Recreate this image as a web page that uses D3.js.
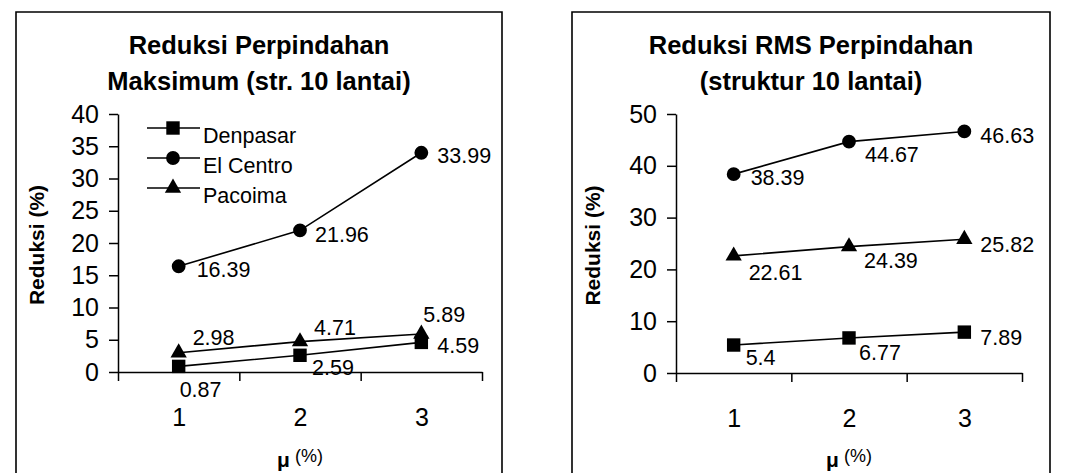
<!DOCTYPE html>
<html>
<head>
<meta charset="utf-8">
<script src="https://cdn.jsdelivr.net/npm/d3@7"></script>
<style>
  html, body { margin: 0; padding: 0; background: #fff; }
  svg { display: block; font-family: Arial, "Liberation Sans", sans-serif; }
</style>
</head>
<body>
<svg id="chart" width="1071" height="473"></svg>
<script>
// μ values (%) on the horizontal axis
const mu = [1, 2, 3];

// Maximum displacement reduction (%), 10-storey structure
const maxDenpasar = [0.87, 2.59, 4.59];
const maxElCentro = [16.39, 21.96, 33.99];
const maxPacoima  = [2.98, 4.71, 5.89];

// RMS displacement reduction (%), 10-storey structure
const rmsDenpasar = [5.4, 6.77, 7.89];
const rmsElCentro = [38.39, 44.67, 46.63];
const rmsPacoima  = [22.61, 24.39, 25.82];

const seriesNames = ["Denpasar", "El Centro", "Pacoima"];
const maxTicks = [0, 5, 10, 15, 20, 25, 30, 35, 40];
const rmsTicks = [0, 10, 20, 30, 40, 50];

const svg = d3.select("#chart");

const symbolFor = {
  "Denpasar": d3.symbol().type(d3.symbolSquare).size(180),
  "El Centro": d3.symbol().type(d3.symbolCircle).size(150),
  "Pacoima": d3.symbol().type(d3.symbolTriangle).size(115)
};

function drawPanel(p) {
  const g = svg.append("g");

  // frame (open at the bottom edge of the page)
  g.append("path")
    .attr("d", `M${p.frame[0]},480 V${p.frame[1]} H${p.frame[2]} V480`)
    .attr("fill", "none").attr("stroke", "#000").attr("stroke-width", 1.6);

  // title
  const cx = (p.frame[0] + p.frame[2]) / 2;
  const title = g.append("text")
    .attr("text-anchor", "middle")
    .attr("font-weight", "bold").attr("font-size", 25.5);
  p.title.forEach((t, i) => {
    title.append("tspan").attr("x", cx).attr("y", 54 + i * 36).text(t);
  });

  const x = d3.scaleLinear().domain([0.5, 3.5]).range([p.left, p.right]);
  const y = d3.scaleLinear().domain([0, p.yMax]).range([p.bottom, p.top]);

  // y axis
  const ya = g.append("g").attr("transform", `translate(${p.left},0)`)
    .call(d3.axisLeft(y).tickValues(p.ticks).tickSizeInner(9).tickSizeOuter(0).tickPadding(10));
  ya.selectAll("text").attr("font-size", 25).attr("fill", "#000")
    .attr("font-family", "Arial, 'Liberation Sans', sans-serif");
  ya.selectAll("line,path").attr("stroke", "#000").attr("stroke-width", 1.5);

  // x axis: tick marks on category boundaries
  const xa = g.append("g").attr("transform", `translate(0,${p.bottom})`)
    .call(d3.axisBottom(x).tickValues([0.5, 1.5, 2.5, 3.5]).tickFormat("")
      .tickSizeInner(9).tickSizeOuter(0));
  xa.selectAll("line,path").attr("stroke", "#000").attr("stroke-width", 1.5);

  // x category labels
  const xl = g.append("g").attr("transform", `translate(0,${p.bottom})`)
    .call(d3.axisBottom(x).tickValues(mu).tickFormat(d3.format("d")).tickSize(0).tickPadding(36));
  xl.select(".domain").remove();
  xl.selectAll("text").attr("font-size", 25).attr("fill", "#000")
    .attr("font-family", "Arial, 'Liberation Sans', sans-serif");

  // axis titles
  g.append("text")
    .attr("transform", `translate(${p.frame[0] + 28},${(p.top + p.bottom) / 2 + 2}) rotate(-90)`)
    .attr("text-anchor", "middle").attr("font-weight", "bold").attr("font-size", 21)
    .text("Reduksi (%)");
  const xt = g.append("text")
    .attr("x", (p.left + p.right) / 2).attr("y", 467)
    .attr("text-anchor", "middle");
  xt.append("tspan").attr("font-weight", "bold").attr("font-size", 21).text("μ");
  xt.append("tspan").attr("font-size", 18).attr("dy", -5).text(" (%)");

  // series
  const line = d3.line().x((d, i) => x(mu[i])).y(d => y(d));
  p.series.forEach(s => {
    g.append("path").datum(s.values)
      .attr("d", line).attr("fill", "none")
      .attr("stroke", "#000").attr("stroke-width", 1.6);
    g.selectAll(null).data(s.values).enter().append("path")
      .attr("d", symbolFor[s.name]())
      .attr("transform", (d, i) => `translate(${x(mu[i])},${y(d)})`)
      .attr("fill", "#000");
    g.selectAll(null).data(s.values).enter().append("text")
      .attr("x", (d, i) => x(mu[i]) + s.offsets[i][0])
      .attr("y", (d, i) => y(d) + s.offsets[i][1])
      .attr("font-size", 21.5).attr("fill", "#000")
      .text(d => d);
  });

  // legend
  if (p.legend) {
    p.series.forEach((s, i) => {
      const ly = p.legend[1] + i * 30;
      g.append("line")
        .attr("x1", p.legend[0]).attr("x2", p.legend[0] + 53)
        .attr("y1", ly).attr("y2", ly)
        .attr("stroke", "#000").attr("stroke-width", 1.6);
      g.append("path").attr("d", symbolFor[s.name]())
        .attr("transform", `translate(${p.legend[0] + 26},${ly})`).attr("fill", "#000");
      g.append("text").attr("x", p.legend[0] + 56).attr("y", ly + 15)
        .attr("font-size", 21.5).text(s.name);
    });
  }
}

drawPanel({
  frame: [16, 12, 502],
  title: ["Reduksi Perpindahan", "Maksimum (str. 10 lantai)"],
  left: 118, right: 482, top: 114, bottom: 372, yMax: 40, ticks: maxTicks,
  legend: [147, 128],
  series: [
    { name: seriesNames[0], values: maxDenpasar, offsets: [[1, 31], [12, 20], [16, 11]] },
    { name: seriesNames[1], values: maxElCentro, offsets: [[18, 11], [15, 12], [16, 10]] },
    { name: seriesNames[2], values: maxPacoima, offsets: [[14, -8], [14, -7], [2, -12]] }
  ]
});

drawPanel({
  frame: [572, 12, 1050],
  title: ["Reduksi RMS Perpindahan", "(struktur 10 lantai)"],
  left: 676, right: 1022, top: 114, bottom: 373, yMax: 50, ticks: rmsTicks,
  legend: null,
  series: [
    { name: seriesNames[0], values: rmsDenpasar, offsets: [[12, 20], [10, 22], [16, 13]] },
    { name: seriesNames[1], values: rmsElCentro, offsets: [[17, 11], [16, 20], [16, 12]] },
    { name: seriesNames[2], values: rmsPacoima, offsets: [[15, 24], [15, 21], [16, 13]] }
  ]
});
</script>
</body>
</html>
